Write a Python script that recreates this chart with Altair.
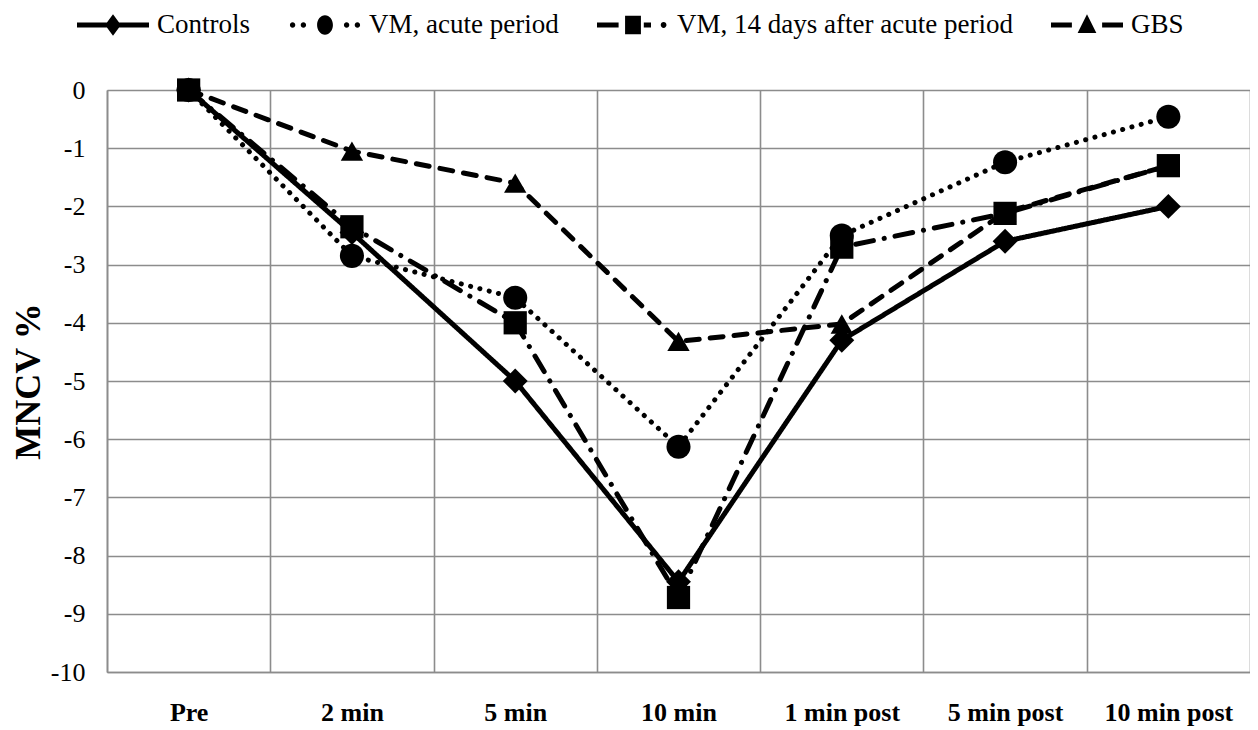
import altair as alt
import pandas as pd

categories = ["Pre", "2 min", "5 min", "10 min", "1 min post", "5 min post", "10 min post"]
series_names = ["Controls", "VM, acute period", "VM, 14 days after acute period", "GBS"]
controls = [0, -2.45, -5.0, -8.45, -4.3, -2.6, -2.0]
vm_acute = [0, -2.85, -3.57, -6.13, -2.5, -1.24, -0.46]
vm_14days = [0, -2.35, -4.0, -8.72, -2.7, -2.12, -1.3]
gbs = [0, -1.05, -1.6, -4.32, -4.02, -2.1, -1.3]
y_ticks = list(range(-10, 1))

values = [controls, vm_acute, vm_14days, gbs]
rows = []
for name, vals in zip(series_names, values):
    for cat, v in zip(categories, vals):
        rows.append({"time": cat, "series": name, "value": v})
df = pd.DataFrame(rows)

FONT = "Liberation Serif"
GRID = "#8c8c8c"

# legend symbols: line segment + marker (unit coordinates)
def circ(cx, cy, r):
    return f"M{cx - r},{cy}A{r},{r} 0 1,1 {cx + r},{cy}A{r},{r} 0 1,1 {cx - r},{cy}Z "
leg_controls = ("M-1,-0.07H1V0.07H-1Z "
                "M0,-0.3L0.22,0L0,0.3L-0.22,0Z")
leg_acute = (circ(-0.9, 0, 0.075) + circ(-0.6, 0, 0.075) + circ(0.6, 0, 0.075) + circ(0.9, 0, 0.075)
             + "M-0.22,0A0.22,0.27 0 1,1 0.22,0A0.22,0.27 0 1,1 -0.22,0Z")
leg_14 = ("M-1,-0.07H-0.4V0.07H-1Z "
          "M-0.22,-0.26H0.22V0.26H-0.22Z "
          "M0.3,-0.07H0.5V0.07H0.3Z " + circ(0.85, 0, 0.08))
leg_gbs = ("M-1,-0.07H-0.42V0.07H-1Z "
           "M0,-0.3L0.26,0.22L-0.26,0.22Z "
           "M0.42,-0.07H1V0.07H0.42Z")
legend_shapes = [leg_controls, leg_acute, leg_14, leg_gbs]

x_enc = alt.X(
    "time:N",
    sort=categories,
    scale=alt.Scale(paddingInner=0, paddingOuter=0),
    axis=alt.Axis(
        title=None, labelAngle=0, ticks=False, tickBand="extent", grid=True,
        gridColor=GRID, gridWidth=1.6, domainColor=GRID, domainWidth=1.6,
        labelFont=FONT, labelFontSize=26, labelFontWeight="bold", labelColor="black",
        labelPadding=27,
    ),
)
y_enc = alt.Y(
    "value:Q",
    scale=alt.Scale(domain=[-10, 0], nice=False),
    axis=alt.Axis(
        title="MNCV %", values=y_ticks, ticks=False, grid=True,
        labelExpr="'' + datum.value",
        gridColor=GRID, gridWidth=1.6, domainColor=GRID, domainWidth=1.6,
        labelFont=FONT, labelFontSize=26, labelColor="black", labelPadding=22,
        titleFont=FONT, titleFontSize=36, titleFontWeight="bold", titleColor="black",
        titlePadding=3,
    ),
)

lines = alt.Chart(df).mark_line(strokeWidth=5, color="black", strokeCap="round").encode(
    x=x_enc, y=y_enc,
    strokeDash=alt.StrokeDash(
        "series:N", sort=series_names,
        scale=alt.Scale(domain=series_names,
                        range=[[1, 0], [0.1, 9.5], [18, 11, 0.1, 11], [13, 11]]),
        legend=None),
    detail="series:N",
)

points = alt.Chart(df).mark_point(filled=True, color="black", opacity=1).encode(
    x=x_enc, y=y_enc,
    shape=alt.Shape("series:N", sort=series_names,
                    scale=alt.Scale(domain=series_names,
                                    range=["diamond", "circle", "square", "triangle-up"]),
                    legend=None),
    size=alt.Size("series:N", scale=alt.Scale(domain=series_names, range=[620, 500, 480, 440]),
                  legend=None),
)

legend_layer = alt.Chart(df).mark_point(filled=True, color="black", opacity=0).encode(
    x=x_enc, y=y_enc,
    shape=alt.Shape("series:N", sort=series_names,
                    scale=alt.Scale(domain=series_names, range=legend_shapes),
                    legend=alt.Legend(
                        title=None, orient="none", direction="horizontal",
                        legendX=-30, legendY=-101, symbolSize=5184, symbolOpacity=1,
                        symbolFillColor="black", symbolStrokeWidth=0,
                        labelFont=FONT, labelFontSize=27, labelColor="black",
                        labelOffset=8, columnPadding=38, labelLimit=600, padding=0,
                    )),
)

chart = alt.layer(lines, legend_layer, points).resolve_scale(
    shape="independent"
).properties(
    width=1143, height=582,
    padding={"left": 99, "top": 82, "right": 0, "bottom": 58},
    autosize=alt.AutoSizeParams(type="none"),
).configure_view(stroke=None).configure(background="white")

chart.save("out.html", embed_options={"renderer": "svg", "actions": False})
